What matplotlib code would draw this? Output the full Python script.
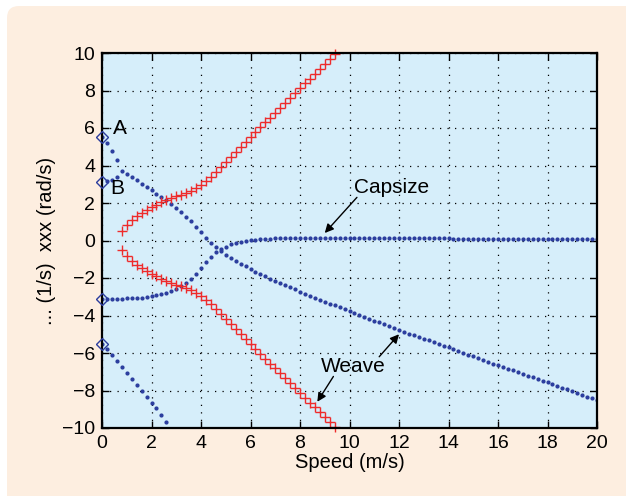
import numpy as np
import matplotlib
matplotlib.use('Agg')
import matplotlib.pyplot as plt
from matplotlib.patches import FancyBboxPatch
from matplotlib.transforms import IdentityTransform

plt.rcParams['font.family'] = ['Liberation Sans', 'DejaVu Sans']

# speed grid, 0.2 m/s steps
speed = np.linspace(0, 20, 101)

# two real roots before the weave pair turns complex (v = 0 .. 0.6)
weave_hi = [5.53, 5.20, 4.80, 4.31]
weave_lo = [3.13, 3.17, 3.23, 3.40]

# weave real part, v = 0.8 .. 20
weave_re = [3.71, 3.53, 3.37, 3.21, 3.02, 2.85, 2.67, 2.50, 2.32, 2.14,
            1.93, 1.72, 1.51, 1.28, 1.03, 0.74, 0.46, 0.16, -0.11, -0.37,
            -0.55, -0.76, -0.94, -1.10, -1.25, -1.38, -1.52, -1.67, -1.79, -1.91,
            -2.04, -2.15, -2.27, -2.39, -2.50, -2.61, -2.73, -2.84, -2.94, -3.05,
            -3.16, -3.26, -3.37, -3.46, -3.56, -3.67, -3.76, -3.87, -3.96, -4.06,
            -4.17, -4.27, -4.37, -4.47, -4.57, -4.68, -4.78, -4.87, -4.96, -5.05,
            -5.14, -5.23, -5.33, -5.42, -5.51, -5.60, -5.70, -5.80, -5.89, -5.99,
            -6.08, -6.18, -6.28, -6.37, -6.46, -6.56, -6.65, -6.74, -6.83, -6.93,
            -7.02, -7.11, -7.20, -7.30, -7.39, -7.48, -7.57, -7.66, -7.75, -7.84,
            -7.94, -8.03, -8.12, -8.22, -8.32, -8.41, -8.50]

# weave imaginary part, v = 0.8 .. 9.4 (plotted as +/-)
weave_im = [0.50, 0.85, 1.10, 1.29, 1.45, 1.63, 1.77, 1.91, 2.04, 2.16,
            2.27, 2.36, 2.45, 2.55, 2.66, 2.80, 2.96, 3.19, 3.40, 3.65,
            3.90, 4.17, 4.43, 4.70, 4.98, 5.25, 5.52, 5.78, 6.04, 6.30,
            6.56, 6.82, 7.08, 7.34, 7.60, 7.86, 8.12, 8.38, 8.64, 8.90,
            9.16, 9.42, 9.68, 9.94]

# capsize, v = 0 .. 20
capsize = [-3.13, -3.12, -3.11, -3.11, -3.10, -3.09, -3.08, -3.07, -3.05, -3.02,
           -2.98, -2.93, -2.87, -2.79, -2.70, -2.59, -2.45, -2.27, -2.03, -1.76,
           -1.46, -1.17, -0.89, -0.62, -0.45, -0.32, -0.20, -0.12, -0.07, -0.02,
           0.02, 0.05, 0.07, 0.09, 0.10, 0.11, 0.12, 0.12, 0.13, 0.13,
           0.13, 0.13, 0.14, 0.14, 0.14, 0.14, 0.14, 0.14, 0.14, 0.14,
           0.14, 0.14, 0.13, 0.13, 0.13, 0.13, 0.13, 0.13, 0.13, 0.12,
           0.12, 0.12, 0.12, 0.12, 0.12, 0.11, 0.11, 0.11, 0.11, 0.11,
           0.11, 0.10, 0.10, 0.10, 0.10, 0.10, 0.10, 0.09, 0.09, 0.09,
           0.09, 0.09, 0.09, 0.09, 0.08, 0.08, 0.08, 0.08, 0.08, 0.08,
           0.08, 0.08, 0.08, 0.07, 0.07, 0.07, 0.07, 0.07, 0.07, 0.07,
           0.07]

# castering, v = 0 .. 2.6
castering = [-5.53, -5.80, -6.13, -6.45, -6.77, -7.09, -7.39, -7.71, -8.03, -8.33,
             -8.65, -8.95, -9.31, -9.66]

# eigenvalues at zero speed
start_vals = [5.53, 3.13, -3.13, -5.53]

BLUE = '#2b3d9e'
RED = '#ee2b2b'

fig = plt.figure(figsize=(6.26, 4.96), dpi=100)
fig.patch.set_facecolor('white')
fig.add_artist(FancyBboxPatch((7, -30), 660, 520, boxstyle='round,pad=0,rounding_size=12',
                              transform=IdentityTransform(), facecolor='#fdeee0',
                              edgecolor='none', zorder=-10))

ax = fig.add_axes([102 / 626, 1 - 428 / 496, 495 / 626, 375 / 496])
ax.set_facecolor('#d6eefa')

dot = dict(linestyle='none', marker='.', markersize=4, color=BLUE)
ax.plot(speed[:4], weave_hi, **dot)
ax.plot(speed[1:4], weave_lo[1:], **dot)
ax.plot(speed[4:], weave_re, **dot)
ax.plot(speed, capsize, **dot)
ax.plot(speed[:len(castering)], castering, **dot)

im = np.array(weave_im)
v_im = speed[4:4 + len(im)]
ax.plot(v_im, im, linestyle='none', marker='+', markersize=7, mew=1.0, color=RED, clip_on=False)
ax.plot(v_im, -im, linestyle='none', marker='+', markersize=7, mew=1.0, color=RED, clip_on=False)

ax.plot(np.zeros(len(start_vals)), start_vals, linestyle='none', marker='D', markersize=6,
        mfc='none', mec=BLUE, mew=1.0, clip_on=False, zorder=5)

ax.set_xlim(0, 20)
ax.set_ylim(-10, 10)
ax.set_xticks(np.arange(0, 21, 2))
ax.set_yticks(np.arange(-10, 11, 2))
ax.set_yticklabels([str(t).replace('-', '\u2212') for t in range(-10, 11, 2)])
ax.tick_params(direction='in', top=True, right=True, length=5, width=1, labelsize=14, pad=5)
ax.grid(True, color='black', linestyle=(0, (1, 5)), linewidth=0.9)
for s in ax.spines.values():
    s.set_linewidth(1.6)

ax.set_xlabel('Speed (m/s)', fontsize=14.5, labelpad=1)
ax.set_ylabel('... (1/s)  xxx (rad/s)', fontsize=14.5, labelpad=4)

ax.text(0.72, 6.0, 'A', fontsize=15, ha='center', va='center')
ax.text(0.6, 2.75, 'B', fontsize=15, ha='center', va='center')

arr = dict(arrowstyle='-|>', color='black', lw=1.0, mutation_scale=13, shrinkA=0, shrinkB=0)
ax.text(11.7, 2.85, 'Capsize', fontsize=15, ha='center', va='center')
ax.annotate('', xy=(9.0, 0.4), xytext=(10.3, 2.3), arrowprops=arr)
ax.text(10.15, -6.7, 'Weave', fontsize=15, ha='center', va='center')
ax.annotate('', xy=(12.0, -5.0), xytext=(11.2, -6.2), arrowprops=arr)
ax.annotate('', xy=(8.7, -8.6), xytext=(9.35, -7.25), arrowprops=arr)

fig.savefig('out.png', dpi=100, facecolor=fig.get_facecolor())
